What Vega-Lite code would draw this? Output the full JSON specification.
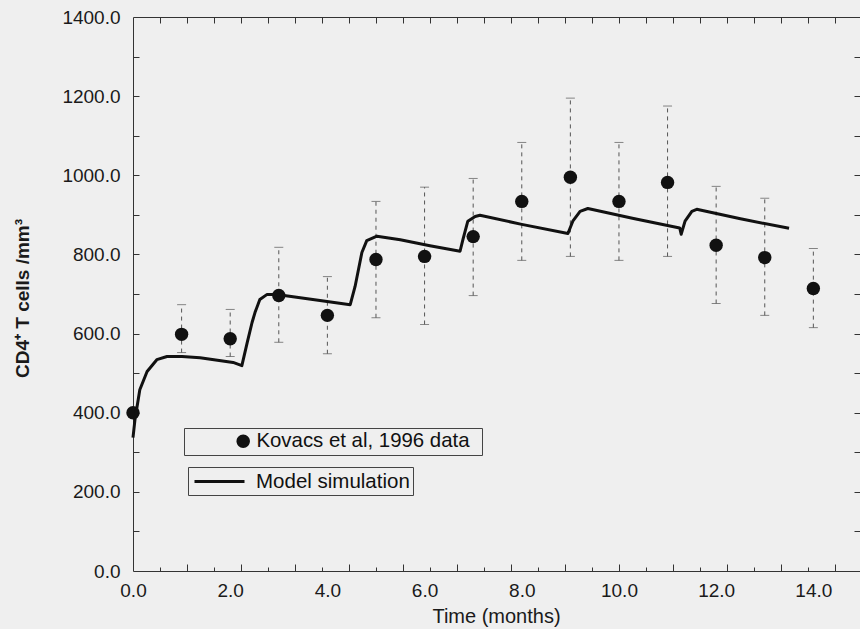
{
  "$schema": "https://vega.github.io/schema/vega-lite/v6.json",
  "width": 727,
  "height": 554,
  "autosize": {"type": "none"},
  "padding": {"left": 133, "top": 17, "right": 0, "bottom": 58},
  "background": "#efefef",
  "datasets": {
    "obs": [
      {"t": 0, "count": 400, "series": "Kovacs et al, 1996 data"},
      {"t": 1, "count": 598, "lo": 552, "hi": 673, "series": "Kovacs et al, 1996 data"},
      {"t": 2, "count": 587, "lo": 542, "hi": 661, "series": "Kovacs et al, 1996 data"},
      {"t": 3, "count": 696, "lo": 578, "hi": 818, "series": "Kovacs et al, 1996 data"},
      {"t": 4, "count": 646, "lo": 549, "hi": 744, "series": "Kovacs et al, 1996 data"},
      {"t": 5, "count": 787, "lo": 640, "hi": 934, "series": "Kovacs et al, 1996 data"},
      {"t": 6, "count": 795, "lo": 623, "hi": 970, "series": "Kovacs et al, 1996 data"},
      {"t": 7, "count": 845, "lo": 696, "hi": 992, "series": "Kovacs et al, 1996 data"},
      {"t": 8, "count": 934, "lo": 785, "hi": 1083, "series": "Kovacs et al, 1996 data"},
      {"t": 9, "count": 995, "lo": 795, "hi": 1195, "series": "Kovacs et al, 1996 data"},
      {"t": 10, "count": 934, "lo": 785, "hi": 1083, "series": "Kovacs et al, 1996 data"},
      {"t": 11, "count": 982, "lo": 795, "hi": 1175, "series": "Kovacs et al, 1996 data"},
      {"t": 12, "count": 823, "lo": 676, "hi": 972, "series": "Kovacs et al, 1996 data"},
      {"t": 13, "count": 792, "lo": 646, "hi": 942, "series": "Kovacs et al, 1996 data"},
      {"t": 14, "count": 714, "lo": 615, "hi": 815, "series": "Kovacs et al, 1996 data"}
    ],
    "model": [
      {"t": 0, "count": 337, "series": "Model simulation"},
      {"t": 0.04, "count": 382, "series": "Model simulation"},
      {"t": 0.14, "count": 458, "series": "Model simulation"},
      {"t": 0.29, "count": 504, "series": "Model simulation"},
      {"t": 0.49, "count": 534, "series": "Model simulation"},
      {"t": 0.7, "count": 542, "series": "Model simulation"},
      {"t": 1.01, "count": 542, "series": "Model simulation"},
      {"t": 1.38, "count": 539, "series": "Model simulation"},
      {"t": 2.06, "count": 527, "series": "Model simulation"},
      {"t": 2.24, "count": 519, "series": "Model simulation"},
      {"t": 2.35, "count": 577, "series": "Model simulation"},
      {"t": 2.45, "count": 628, "series": "Model simulation"},
      {"t": 2.51, "count": 653, "series": "Model simulation"},
      {"t": 2.61, "count": 686, "series": "Model simulation"},
      {"t": 2.76, "count": 699, "series": "Model simulation"},
      {"t": 2.96, "count": 699, "series": "Model simulation"},
      {"t": 3.7, "count": 686, "series": "Model simulation"},
      {"t": 4.47, "count": 673, "series": "Model simulation"},
      {"t": 4.57, "count": 719, "series": "Model simulation"},
      {"t": 4.71, "count": 805, "series": "Model simulation"},
      {"t": 4.81, "count": 835, "series": "Model simulation"},
      {"t": 5.02, "count": 846, "series": "Model simulation"},
      {"t": 5.5, "count": 837, "series": "Model simulation"},
      {"t": 6.11, "count": 822, "series": "Model simulation"},
      {"t": 6.73, "count": 808, "series": "Model simulation"},
      {"t": 6.79, "count": 838, "series": "Model simulation"},
      {"t": 6.89, "count": 884, "series": "Model simulation"},
      {"t": 7.04, "count": 896, "series": "Model simulation"},
      {"t": 7.14, "count": 899, "series": "Model simulation"},
      {"t": 8.0, "count": 876, "series": "Model simulation"},
      {"t": 8.95, "count": 853, "series": "Model simulation"},
      {"t": 9.05, "count": 884, "series": "Model simulation"},
      {"t": 9.2, "count": 909, "series": "Model simulation"},
      {"t": 9.36, "count": 916, "series": "Model simulation"},
      {"t": 10.3, "count": 891, "series": "Model simulation"},
      {"t": 11.25, "count": 867, "series": "Model simulation"},
      {"t": 11.28, "count": 851, "series": "Model simulation"},
      {"t": 11.36, "count": 884, "series": "Model simulation"},
      {"t": 11.5, "count": 909, "series": "Model simulation"},
      {"t": 11.6, "count": 914, "series": "Model simulation"},
      {"t": 12.5, "count": 890, "series": "Model simulation"},
      {"t": 13.5, "count": 866, "series": "Model simulation"}
    ]
  },
  "resolve": {"axis": {"x": "independent", "y": "independent"}},
  "layer": [
    {
      "data": {"name": "obs"},
      "mark": {"type": "rule", "color": "#555", "strokeWidth": 1, "strokeDash": [4, 4]},
      "encoding": {
        "x": {
          "field": "t", "type": "quantitative",
          "scale": {"domain": [0, 14.96], "nice": false, "zero": false},
          "axis": {
            "orient": "bottom", "title": "Time (months)", "titleFontSize": 20, "titleFontWeight": "normal",
            "titleX": 363, "titleY": 35, "titleBaseline": "top", "titleAnchor": null,
            "values": [0, 2, 4, 6, 8, 10, 12, 14], "format": ".1f", "ticks": false,
            "labelFontSize": 19, "labelPadding": 10, "labelFlush": false, "labelOverlap": false,
            "domain": false
          }
        },
        "y": {
          "field": "lo", "type": "quantitative",
          "scale": {"domain": [0, 1400], "nice": false},
          "axis": {
            "orient": "left", "title": "CD4\u207a T cells /mm\u00b3", "titleFontSize": 19, "titleFontWeight": "bold",
            "titleX": -101, "titleY": 281, "titleAngle": 270,
            "values": [0, 200, 400, 600, 800, 1000, 1200, 1400], "format": ".1f", "ticks": false,
            "labelFontSize": 19, "labelPadding": 13, "labelFlush": false, "labelOverlap": false,
            "domain": false
          }
        },
        "y2": {"field": "hi"}
      }
    },
    {
      "data": {"name": "obs"},
      "transform": [{"fold": ["lo", "hi"], "as": ["end", "value"]}],
      "mark": {"type": "tick", "orient": "horizontal", "color": "#555", "size": 9, "thickness": 1},
      "encoding": {
        "x": {
          "field": "t", "type": "quantitative",
          "axis": {
            "orient": "bottom", "title": null, "labels": false, "domain": false,
            "tickSize": -7, "tickWidth": 1, "tickColor": "#333",
            "values": [1.1111, 2.2222, 3.3333, 4.4444, 5.5556, 6.6667, 7.7778, 8.8889, 10, 11.1111, 12.2222, 13.3333, 14.4444]
          }
        },
        "y": {
          "field": "value", "type": "quantitative",
          "axis": {
            "orient": "left", "title": null, "labels": false, "domain": false,
            "tickSize": -6, "tickWidth": 1, "tickColor": "#333",
            "values": [100, 200, 300, 400, 500, 600, 700, 800, 900, 1000, 1100, 1200, 1300]
          }
        }
      }
    },
    {
      "data": {"name": "obs"},
      "mark": {"type": "circle", "opacity": 1},
      "encoding": {
        "x": {
          "field": "t", "type": "quantitative",
          "axis": {
            "orient": "top", "title": null, "labels": false, "domain": false,
            "tickSize": -6, "tickWidth": 1, "tickColor": "#333",
            "values": [0.5556, 1.1111, 1.6667, 2.2222, 2.7778, 3.3333, 3.8889, 4.4444, 5.0, 5.5556, 6.1111, 6.6667, 7.2222, 7.7778, 8.3333, 8.8889, 9.4444, 10.0, 10.5556, 11.1111, 11.6667, 12.2222, 12.7778, 13.3333, 13.8889, 14.4444]
          }
        },
        "y": {
          "field": "count", "type": "quantitative",
          "axis": {
            "orient": "right", "title": null, "labels": false, "domain": false,
            "tickSize": -6, "tickWidth": 1, "tickColor": "#333",
            "values": [100, 200, 300, 400, 500, 600, 700, 800, 900, 1000, 1100, 1200, 1300]
          }
        },
        "size": {"value": 180},
        "fill": {
          "field": "series", "type": "nominal",
          "scale": {"range": ["#111111"]},
          "legend": {
            "orient": "none", "legendX": 51, "legendY": 411,
            "title": "\u00a0", "titleOrient": "right", "titlePadding": 9, "titleFontSize": 20,
            "padding": 3, "strokeColor": "#444", "cornerRadius": 0,
            "labelFont": "Liberation Sans", "labelFontSize": 20.4, "labelColor": "#111",
            "labelOffset": 49, "labelLimit": 400,
            "symbolType": "M5.27,0A0.67,0.67,0,1,1,3.93,0A0.67,0.67,0,1,1,5.27,0Z",
            "symbolSize": 400, "symbolStrokeWidth": 0, "symbolFillColor": "#111"
          }
        }
      }
    },
    {
      "data": {"name": "model"},
      "mark": {"type": "line", "strokeWidth": 3, "strokeJoin": "round", "interpolate": "linear"},
      "encoding": {
        "x": {
          "field": "t", "type": "quantitative",
          "axis": {
            "orient": "bottom", "title": null, "labels": false, "domain": false,
            "tickSize": -4, "tickWidth": 1, "tickColor": "#333",
            "values": [0.5556, 1.6667, 2.7778, 3.8889, 5.0, 6.1111, 7.2222, 8.3333, 9.4444, 10.5556, 11.6667, 12.7778, 13.8889]
          }
        },
        "y": {"field": "count", "type": "quantitative", "axis": null},
        "stroke": {
          "field": "series", "type": "nominal",
          "scale": {"range": ["#111111"]},
          "legend": {
            "orient": "none", "legendX": 55, "legendY": 450,
            "title": "\u00a0", "titleOrient": "left", "titlePadding": 17, "titleFontSize": 20,
            "padding": 3, "strokeColor": "#444", "cornerRadius": 0,
            "labelFont": "Liberation Sans", "labelFontSize": 20.5, "labelColor": "#111",
            "labelOffset": 25, "labelLimit": 400,
            "symbolType": "M-2.5,0H2.5", "symbolSize": 400, "symbolStrokeWidth": 3, "symbolStrokeColor": "#111"
          }
        }
      }
    }
  ],
  "config": {
    "view": {"stroke": "#333", "strokeWidth": 1},
    "axis": {
      "labelFont": "Liberation Sans", "titleFont": "Liberation Sans",
      "labelColor": "#1a1a1a", "titleColor": "#1a1a1a",
      "gridOpacity": 0, "gridColor": "transparent"
    },
    "legend": {"titleFont": "Liberation Sans"}
  }
}
